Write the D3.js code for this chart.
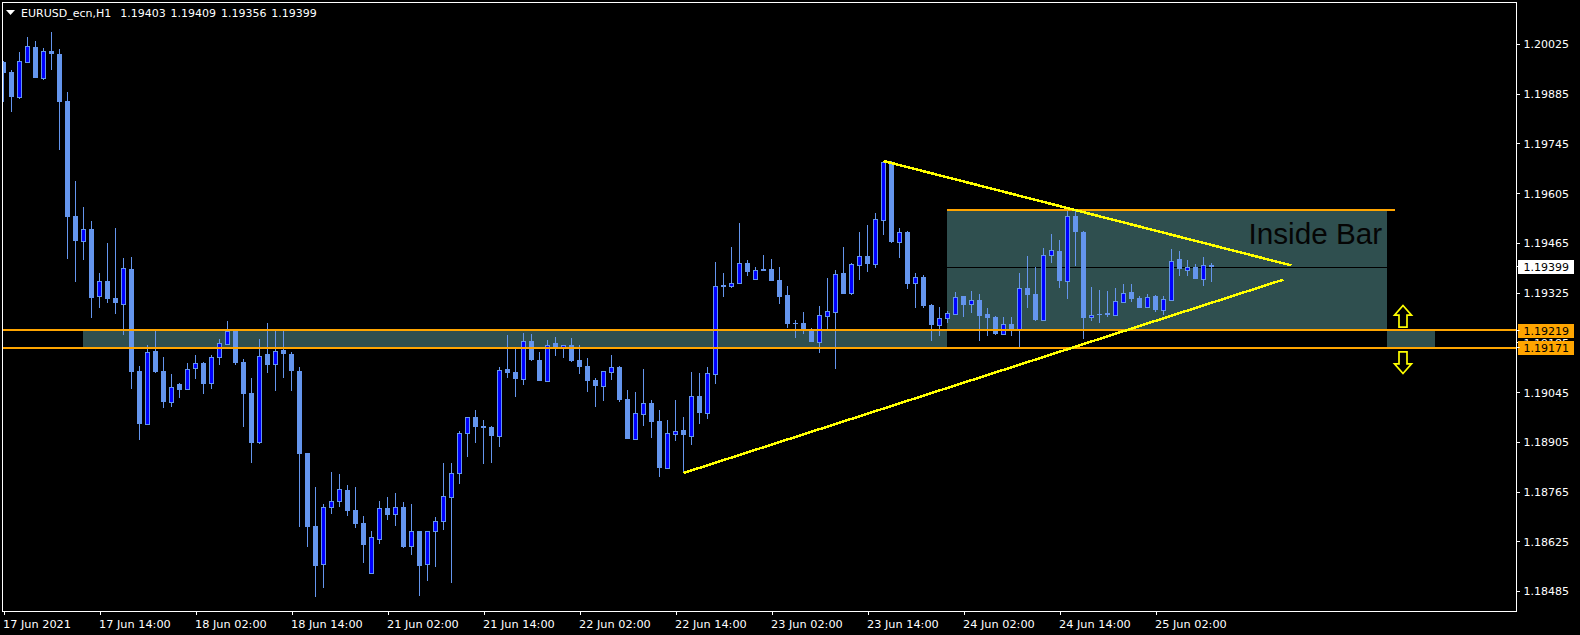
<!DOCTYPE html>
<html><head><meta charset="utf-8"><title>EURUSD_ecn,H1</title>
<script src="https://cdn.jsdelivr.net/npm/d3@7"></script>
<style>html,body{margin:0;padding:0;background:#000;overflow:hidden}svg{display:block}text{font-family:"DejaVu Sans",sans-serif;font-size:11px}</style>
</head><body><div id="chart"></div>
<script>
const opens=[
1.19979,1.19951,1.19881,1.19980,1.20022,1.19935,1.20011,1.20002,1.19868,1.19543,
1.19473,1.19506,1.19317,1.19358,1.19310,1.19295,1.19392,1.19104,1.18955,1.19160,
1.19104,1.19015,1.19067,1.19052,1.19112,1.19126,1.19069,1.19144,1.19181,1.19217,
1.19129,1.19042,1.18904,1.19151,1.19123,1.19163,1.19151,1.19104,1.18872,1.18664,
1.18556,1.18718,1.18737,1.18766,1.18709,1.18672,1.18533,1.18629,1.18715,1.18698,
1.18719,1.18607,1.18651,1.18556,1.18652,1.18678,1.18746,1.18814,1.18927,1.18973,
1.18948,1.18945,1.18921,1.19110,1.19101,1.19082,1.19189,1.19135,1.19076,1.19183,
1.19172,1.19178,1.19135,1.19118,1.19078,1.19062,1.19102,1.19115,1.19025,1.18912,
1.18983,1.19013,1.18962,1.18830,1.18926,1.18937,1.18921,1.19033,1.18986,1.19096,
1.19348,1.19346,1.19354,1.19410,1.19365,1.19393,1.19393,1.19362,1.19319,1.19240,
1.19240,1.19220,1.19187,1.19261,1.19272,1.19382,1.19326,1.19405,1.19430,1.19408,
1.19533,1.19695,1.19470,1.19498,1.19354,1.19370,1.19291,1.19235,1.19255,1.19266,
1.19316,1.19295,1.19305,1.19265,1.19257,1.19210,1.19237,1.19224,1.19339,1.19322,
1.19249,1.19433,1.19444,1.19360,1.19543,1.19498,1.19258,1.19265,1.19268,1.19263,
1.19300,1.19328,1.19311,1.19286,1.19316,1.19278,1.19306,1.19421,1.19391,1.19398,
1.19365,1.19403];
const highs=[
1.19982,1.19957,1.20008,1.20050,1.20039,1.20019,1.20063,1.20015,1.19893,1.19641,
1.19568,1.19528,1.19381,1.19468,1.19508,1.19423,1.19426,1.19118,1.19177,1.19217,
1.19144,1.19095,1.19070,1.19127,1.19149,1.19129,1.19149,1.19194,1.19246,1.19217,
1.19138,1.19083,1.19195,1.19240,1.19217,1.19217,1.19157,1.19114,1.18872,1.18775,
1.18726,1.18817,1.18812,1.18780,1.18775,1.18693,1.18650,1.18736,1.18747,1.18758,
1.18733,1.18726,1.18652,1.18652,1.18689,1.18843,1.18843,1.18933,1.18975,1.18993,
1.18964,1.18948,1.19114,1.19206,1.19166,1.19212,1.19209,1.19158,1.19191,1.19200,
1.19179,1.19197,1.19178,1.19141,1.19084,1.19104,1.19149,1.19118,1.19050,1.19044,
1.19110,1.19022,1.18993,1.18965,1.19022,1.18973,1.19101,1.19098,1.19115,1.19413,
1.19382,1.19455,1.19523,1.19418,1.19398,1.19433,1.19421,1.19398,1.19345,1.19248,
1.19270,1.19226,1.19288,1.19367,1.19390,1.19455,1.19410,1.19498,1.19518,1.19552,
1.19699,1.19699,1.19509,1.19500,1.19382,1.19376,1.19294,1.19285,1.19274,1.19328,
1.19316,1.19331,1.19322,1.19282,1.19260,1.19257,1.19257,1.19382,1.19430,1.19398,
1.19452,1.19492,1.19475,1.19560,1.19560,1.19500,1.19342,1.19333,1.19331,1.19339,
1.19350,1.19350,1.19316,1.19322,1.19319,1.19316,1.19449,1.19444,1.19418,1.19407,
1.19427,1.19409];
const lows=[
1.19866,1.19839,1.19875,1.19977,1.19935,1.19929,1.19958,1.19731,1.19422,1.19357,
1.19419,1.19255,1.19283,1.19297,1.19266,1.19207,1.19054,1.18909,1.18952,1.19099,
1.19000,1.19003,1.19028,1.19051,1.19082,1.19040,1.19054,1.19122,1.19178,1.19122,
1.18946,1.18844,1.18898,1.19099,1.19048,1.19085,1.19048,1.18663,1.18606,1.18464,
1.18490,1.18700,1.18719,1.18694,1.18660,1.18561,1.18533,1.18615,1.18683,1.18666,
1.18603,1.18583,1.18467,1.18510,1.18549,1.18654,1.18504,1.18785,1.18861,1.18901,
1.18841,1.18844,1.18889,1.19085,1.19031,1.19065,1.19132,1.19076,1.19076,1.19146,
1.19141,1.19129,1.19095,1.19044,1.19002,1.19019,1.19078,1.19016,1.18911,1.18908,
1.18948,1.18914,1.18804,1.18830,1.18906,1.18815,1.18894,1.18954,1.18968,1.19067,
1.19314,1.19339,1.19350,1.19373,1.19365,1.19387,1.19359,1.19294,1.19226,1.19197,
1.19209,1.19186,1.19155,1.19220,1.19110,1.19322,1.19319,1.19362,1.19384,1.19396,
1.19489,1.19466,1.19424,1.19336,1.19282,1.19282,1.19189,1.19203,1.19240,1.19263,
1.19257,1.19268,1.19189,1.19203,1.19206,1.19209,1.19203,1.19173,1.19282,1.19246,
1.19246,1.19410,1.19339,1.19308,1.19401,1.19195,1.19246,1.19240,1.19257,1.19263,
1.19300,1.19299,1.19282,1.19286,1.19271,1.19263,1.19306,1.19373,1.19373,1.19365,
1.19345,1.19356];
const closes=[
1.19948,1.19881,1.19981,1.20024,1.19935,1.20010,1.20002,1.19867,1.19540,1.19473,
1.19505,1.19312,1.19358,1.19309,1.19297,1.19395,1.19102,1.18955,1.19157,1.19102,
1.19017,1.19058,1.19051,1.19109,1.19126,1.19068,1.19145,1.19182,1.19216,1.19127,
1.19040,1.18901,1.19147,1.19122,1.19161,1.19153,1.19105,1.18870,1.18663,1.18552,
1.18718,1.18737,1.18769,1.18708,1.18671,1.18612,1.18633,1.18715,1.18696,1.18718,
1.18605,1.18650,1.18552,1.18652,1.18678,1.18749,1.18814,1.18927,1.18973,1.18946,
1.18943,1.18921,1.19106,1.19099,1.19082,1.19188,1.19135,1.19076,1.19179,1.19172,
1.19179,1.19132,1.19115,1.19076,1.19061,1.19104,1.19114,1.19022,1.18911,1.18984,
1.19012,1.18959,1.18829,1.18927,1.18933,1.18923,1.19032,1.18985,1.19097,1.19344,
1.19342,1.19352,1.19409,1.19384,1.19389,1.19387,1.19359,1.19314,1.19237,1.19237,
1.19221,1.19186,1.19264,1.19273,1.19378,1.19322,1.19406,1.19429,1.19407,1.19536,
1.19695,1.19469,1.19497,1.19350,1.19369,1.19288,1.19234,1.19253,1.19267,1.19315,
1.19291,1.19304,1.19260,1.19254,1.19209,1.19236,1.19217,1.19338,1.19319,1.19248,
1.19434,1.19446,1.19359,1.19542,1.19498,1.19254,1.19264,1.19263,1.19263,1.19301,
1.19324,1.19308,1.19282,1.19315,1.19277,1.19307,1.19417,1.19393,1.19398,1.19365,
1.19403,1.19399];

const priceTicks=[1.20025,1.19885,1.19745,1.19605,1.19465,1.19325,1.19185,1.19045,1.18905,1.18765,1.18625,1.18485];
const timeTickIndex=[0,12,24,36,48,60,72,84,96,108,120,132,144];
const timeTickLabels=["17 Jun 2021","17 Jun 14:00","18 Jun 02:00","18 Jun 14:00","21 Jun 02:00","21 Jun 14:00","22 Jun 02:00","22 Jun 14:00","23 Jun 02:00","23 Jun 14:00","24 Jun 02:00","24 Jun 14:00","25 Jun 02:00"];
const headerSymbol="EURUSD_ecn,H1";
const headerQuotes=["1.19403","1.19409","1.19356","1.19399"];
const bidPrice=1.19399;
const levelTags=[1.19219,1.19171];
const levelLines=[1.19219,1.19170];
const insideHigh=1.19560;
// zones: [firstBar,lastBar,topPrice,bottomPrice]
const zones=[[10,118,1.19219,1.19170],[118,173,1.19560,1.19219],[173,179,1.19219,1.19170]];
// triangle: [bar,price,bar,price]
const trendLines=[[110,1.19699,161,1.19403],[85,1.18815,160,1.19363]];
const arrowBar=175;

const W=1580,H=635,L=2.5,T=2.5,R=1516.5,B=611.5;
const x=d3.scaleLinear().domain([0,189]).range([3.5,1515.5]);
const y=d3.scaleLinear().domain([1.18485,1.20025]).range([589.5,45.9]);
const yAxisScale=d3.scaleLinear().domain([1.18485,1.20025]).range([591,44]);

const candles=opens.map((o,i)=>({i,o,h:highs[i],l:lows[i],c:closes[i],up:closes[i]>=o}));
const svg=d3.select("#chart").append("svg").attr("width",W).attr("height",H).style("background","#000");
svg.append("clipPath").attr("id","plot").append("rect").attr("x",3).attr("y",3).attr("width",R-3).attr("height",B-3);
const plot=svg.append("g").attr("clip-path","url(#plot)");

// zones
plot.append("g").selectAll("rect").data(zones).join("rect")
 .attr("x",d=>Math.floor(x(d[0])))
 .attr("width",d=>Math.floor(x(d[1]))-Math.floor(x(d[0])))
 .attr("y",d=>Math.round(y(d[2])))
 .attr("height",d=>Math.round(y(d[3]))-Math.round(y(d[2])))
 .attr("fill","#2F4F4F");
// bid line
plot.append("rect").attr("x",3).attr("width",R-3).attr("y",Math.round(y(bidPrice))).attr("height",1).attr("fill","#000");

// candles
const cg=plot.append("g");
const light="#6495ED",blue="#0000FF";
const c=cg.selectAll("g").data(candles).join("g");
c.append("rect").attr("x",d=>x(d.i)-.5).attr("width",1)
 .attr("y",d=>Math.round(y(d.h))).attr("height",d=>Math.max(1,Math.round(y(d.l))-Math.round(y(d.h))))
 .attr("fill",light);
c.append("rect")
 .attr("x",d=>d.up?x(d.i)-2:x(d.i)-2.5)
 .attr("width",d=>d.up?4:5)
 .attr("y",d=>{const t=Math.round(y(Math.max(d.o,d.c)));return d.up?t+.5:t;})
 .attr("height",d=>{const h=Math.round(y(Math.min(d.o,d.c)))-Math.round(y(Math.max(d.o,d.c)));return Math.max(1,h);})
 .attr("fill",d=>d.up?blue:light)
 .attr("stroke",d=>d.up?light:"none").attr("stroke-width",1)
 .attr("shape-rendering","crispEdges");

// horizontal levels
const lev=plot.append("g");
lev.selectAll("rect").data(levelLines).join("rect")
 .attr("x",3).attr("width",R-3).attr("y",d=>Math.round(y(d))-1).attr("height",2).attr("fill","#FFA500");
lev.append("rect").attr("x",Math.floor(x(118))).attr("width",Math.floor(x(174))-Math.floor(x(118)))
 .attr("y",Math.round(y(insideHigh))-1).attr("height",2).attr("fill","#FFA500");

// triangle lines
plot.append("g").selectAll("line").data(trendLines).join("line")
 .attr("x1",d=>x(d[0])).attr("y1",d=>y(d[1])).attr("x2",d=>x(d[2])).attr("y2",d=>y(d[3]))
 .attr("stroke","#FFFF00").attr("stroke-width",2.5).attr("shape-rendering","crispEdges");

// label
plot.append("text").text("Inside Bar").attr("x",1248.5).attr("y",244)
 .style("font-family",'"Liberation Sans",Arial,sans-serif').style("font-size","29.7px").attr("fill","#050505");

// arrows
const arrowUp=[[0,-11.2],[8.5,-1.6],[4,-1.6],[4,10.4],[-4,10.4],[-4,-1.6],[-8.5,-1.6]];
const arrowDown=arrowUp.map(p=>[p[0],-p[1]]);
const lineGen=d3.line().curve(d3.curveLinearClosed);
[[arrowUp,316.7],[arrowDown,362.3]].forEach(([pts,cy])=>{
 plot.append("path").attr("d",lineGen(pts)).attr("transform",`translate(${x(arrowBar)-.5},${cy})`)
  .attr("fill","#000").attr("stroke","#FFFF00").attr("stroke-width",1.7).attr("stroke-linejoin","miter");
});

// axes
const axisR=d3.axisRight(yAxisScale).tickValues(priceTicks).tickFormat(d3.format(".5f")).tickSize(3).tickPadding(4);
const gy=svg.append("g").attr("transform",`translate(${R},0)`).call(axisR);
const axisB=d3.axisBottom(x).tickValues(timeTickIndex).tickFormat((d,i)=>timeTickLabels[i]).tickSize(3).tickPadding(3);
const gx=svg.append("g").attr("transform",`translate(0,${B})`).call(axisB);
[gy,gx].forEach(g=>{g.select(".domain").remove();g.selectAll(".tick line").attr("stroke","#fff").attr("shape-rendering","crispEdges");
 g.selectAll(".tick text").attr("fill","#fff").style("font-family",'"DejaVu Sans",sans-serif').style("font-size","11px");});
gx.selectAll(".tick text").attr("text-anchor","start").attr("x",-1).attr("y",8).attr("dy","0.71em").style("font-size","11.3px");
gy.selectAll(".tick text").attr("x",7).attr("dy","0.36em");

// frame
svg.append("rect").attr("x",L).attr("y",T).attr("width",R-L).attr("height",B-T).attr("fill","none").attr("stroke","#fff").attr("stroke-width",1).attr("shape-rendering","crispEdges");

// price tags
const tags=[{p:bidPrice,bg:"#fff"},...levelTags.map(p=>({p,bg:"#FFA500"}))];
const tg=svg.append("g").selectAll("g").data(tags).join("g").attr("transform",d=>`translate(0,${Math.round(yAxisScale(d.p))})`);
tg.append("rect").attr("x",1518).attr("y",-6).attr("width",56).attr("height",14).attr("fill",d=>d.bg);
tg.append("text").text(d=>d.p.toFixed(5)).attr("x",1523.5).attr("y",5).attr("fill","#000");
tg.append("line").attr("x1",R).attr("x2",R+3).attr("y1",.5).attr("y2",.5).attr("stroke","#fff");

// header
svg.append("path").attr("d",d3.line()([[6,10],[15,10],[10.5,15]])+"Z").attr("fill","#fff");
svg.append("text").text(headerSymbol).attr("x",21).attr("y",16.5).attr("fill","#fff");
svg.append("g").selectAll("text").data(headerQuotes).join("text").text(d=>d)
 .attr("x",(d,i)=>x(14.6)+i*50.3).attr("y",16.5).attr("fill","#fff");
</script></body></html>
